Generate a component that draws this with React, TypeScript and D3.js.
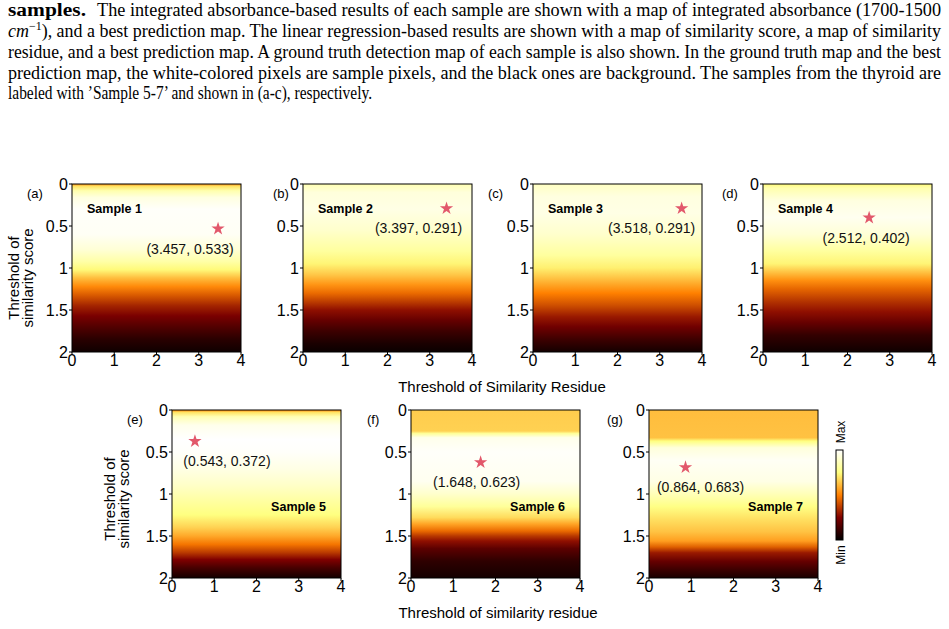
import React from "react";
import * as d3 from "d3";

// ---------- data ----------
const panelLetters = ["(a)", "(b)", "(c)", "(d)", "(e)", "(f)", "(g)"];
const sampleNames = ["Sample 1", "Sample 2", "Sample 3", "Sample 4", "Sample 5", "Sample 6", "Sample 7"];
const bestResidue = [3.457, 3.397, 3.518, 2.512, 0.543, 1.648, 0.864];
const bestScore = [0.533, 0.291, 0.291, 0.402, 0.372, 0.623, 0.683];

// vertical profiles (threshold of similarity score -> normalised value)
const depthsA = [0, 0.03, 0.08, 0.16, 0.3, 0.6, 0.78, 0.92, 1.02, 1.12, 1.22, 1.32, 1.45, 1.57, 1.7, 1.85, 2];
const valuesA = [0.55, 0.7, 0.84, 0.94, 0.99, 0.98, 0.92, 0.83, 0.74, 0.62, 0.52, 0.43, 0.32, 0.24, 0.16, 0.08, 0.03];
const depthsB = [0, 0.1, 0.3, 0.55, 0.8, 0.95, 1.08, 1.2, 1.3, 1.4, 1.5, 1.62, 1.75, 1.9, 2];
const valuesB = [0.85, 0.93, 0.95, 0.9, 0.81, 0.73, 0.64, 0.54, 0.46, 0.37, 0.28, 0.2, 0.12, 0.05, 0.02];
const depthsC = [0, 0.15, 0.35, 0.6, 0.85, 1.0, 1.15, 1.3, 1.45, 1.58, 1.7, 1.85, 2];
const valuesC = [0.88, 0.94, 0.95, 0.9, 0.81, 0.72, 0.61, 0.5, 0.4, 0.3, 0.22, 0.12, 0.04];
const depthsD = [0, 0.05, 0.2, 0.4, 0.6, 0.8, 0.95, 1.05, 1.15, 1.25, 1.4, 1.52, 1.65, 1.8, 2];
const valuesD = [0.74, 0.84, 0.94, 0.97, 0.92, 0.81, 0.73, 0.63, 0.53, 0.45, 0.35, 0.28, 0.2, 0.1, 0.03];
const depthsE = [0, 0.03, 0.08, 0.18, 0.35, 0.5, 0.7, 0.9, 1.1, 1.25, 1.4, 1.5, 1.6, 1.7, 1.78, 1.88, 2];
const valuesE = [0.52, 0.7, 0.85, 0.96, 1.0, 0.99, 0.95, 0.89, 0.81, 0.75, 0.66, 0.58, 0.48, 0.36, 0.25, 0.14, 0.04];
const depthsF = [0, 0.25, 0.28, 0.33, 0.5, 0.85, 1.0, 1.15, 1.28, 1.36, 1.44, 1.5, 1.56, 1.65, 1.8, 2];
const valuesF = [0.65, 0.66, 0.8, 0.96, 0.99, 0.97, 0.9, 0.8, 0.68, 0.57, 0.46, 0.36, 0.28, 0.18, 0.09, 0.04];
const depthsG = [0, 0.33, 0.37, 0.45, 0.6, 0.85, 1.0, 1.15, 1.3, 1.45, 1.56, 1.63, 1.7, 1.8, 1.9, 2];
const valuesG = [0.62, 0.63, 0.75, 0.93, 0.98, 0.95, 0.86, 0.76, 0.69, 0.63, 0.56, 0.44, 0.3, 0.2, 0.12, 0.05];

const profileDepths = [depthsA, depthsB, depthsC, depthsD, depthsE, depthsF, depthsG];
const profileValues = [valuesA, valuesB, valuesC, valuesD, valuesE, valuesF, valuesG];

const xTicks = [0, 1, 2, 3, 4];
const yTicks = [0, 0.5, 1, 1.5, 2];

const captionLines = [
  "The integrated absorbance-based results of each sample are shown with a map of integrated absorbance (1700-1500",
  "), and a best prediction map. The linear regression-based results are shown with a map of similarity score, a map of similarity",
  "residue, and a best prediction map. A ground truth detection map of each sample is also shown. In the ground truth map and the best",
  "prediction map, the white-colored pixels are sample pixels, and the black ones are background. The samples from the thyroid are",
  "labeled with \u2019Sample 5-7\u2019 and shown in (a-c), respectively.",
];

// ---------- layout ----------
const W = 949, H = 629;
const PW = 169, PH = 168;
const panelLeft = [72, 303, 533, 763, 172, 411, 649];
const panelTop = [184, 184, 184, 184, 410, 410, 410];
const letterDx = [-45, -30, -45, -41, -45, -44, -42];
const labelDx = [-28, -28, -30, -3, 32, -4, 15];
const SANS = "'Liberation Sans', Arial, sans-serif";
const SERIF = "'Liberation Serif', 'Times New Roman', serif";

const clamp = (v: number) => Math.max(0, Math.min(1, v));
const afmhot = (v: number) =>
  d3.rgb(255 * clamp(2 * v), 255 * clamp(2 * v - 0.5), 255 * clamp(2 * v - 1)).formatHex();

const star = d3.symbol().type(d3.symbolStar).size(55)();

function Panel({ i }: { i: number }) {
  const left = panelLeft[i], top = panelTop[i];
  const x = d3.scaleLinear().domain([0, 4]).range([left, left + PW]);
  const y = d3.scaleLinear().domain([0, 2]).range([top, top + PH]);
  const bottomRow = i >= 4;
  const sx = x(bestResidue[i]), sy = y(bestScore[i]);
  return (
    <g>
      <rect x={left} y={top} width={PW} height={PH} fill={`url(#grad${i})`} />
      <rect x={left} y={top} width={PW} height={PH} fill="none" stroke="#000" strokeWidth={1} />
      {xTicks.map((t) => (
        <g key={"x" + t}>
          <line x1={x(t)} x2={x(t)} y1={top + PH} y2={top + PH + 3} stroke="#000" />
          <text x={x(t)} y={top + PH + 14} textAnchor="middle" fontSize={16} fontFamily={SANS}>{t}</text>
        </g>
      ))}
      {yTicks.map((t) => (
        <g key={"y" + t}>
          <line x1={left - 3} x2={left} y1={y(t)} y2={y(t)} stroke="#000" />
          <text x={left - 4} y={y(t) + 5.5} textAnchor="end" fontSize={16} fontFamily={SANS}>{t}</text>
        </g>
      ))}
      <text x={left + letterDx[i]} y={top + 14} fontSize={13} fontFamily={SANS}>{panelLetters[i]}</text>
      {bottomRow ? (
        <text x={left + PW - 15} y={y(1.2)} textAnchor="end" fontSize={12.5} fontWeight="bold" fontFamily={SANS}>{sampleNames[i]}</text>
      ) : (
        <text x={left + 15} y={top + 29} fontSize={12.5} fontWeight="bold" fontFamily={SANS}>{sampleNames[i]}</text>
      )}
      <path d={star as string} transform={`translate(${sx},${sy})`} fill="#e2586b" />
      <text x={sx + labelDx[i]} y={sy + 25} textAnchor="middle" fontSize={14} fontFamily={SANS} fill="#111">
        ({bestResidue[i].toFixed(3)}, {bestScore[i].toFixed(3)})
      </text>
    </g>
  );
}

export default function App() {
  const cbStops = d3.range(0, 1.0001, 0.05);
  return (
    <svg width={W} height={H} style={{ position: "absolute", left: 0, top: 0 }}>
      <defs>
        {profileDepths.map((ds, i) => (
          <linearGradient key={i} id={`grad${i}`} x1="0" y1="0" x2="0" y2="1">
            {ds.map((dpt, k) => (
              <stop key={k} offset={dpt / 2} stopColor={afmhot(profileValues[i][k])} />
            ))}
          </linearGradient>
        ))}
        <linearGradient id="cbar" x1="0" y1="1" x2="0" y2="0">
          {cbStops.map((v, k) => (
            <stop key={k} offset={v} stopColor={afmhot(v)} />
          ))}
        </linearGradient>
      </defs>
      <rect width={W} height={H} fill="#fff" />

      {/* caption */}
      <g fontFamily={SERIF} fontSize={18} fill="#000">
        <text x={8} y={16} fontWeight="bold" textLength={78} lengthAdjust="spacingAndGlyphs">samples.</text>
        <text x={97} y={16} textLength={844} lengthAdjust="spacingAndGlyphs">{captionLines[0]}</text>
        <text x={8} y={37} textLength={933} lengthAdjust="spacingAndGlyphs">
          <tspan fontStyle="italic">cm</tspan>
          <tspan dy={-7} fontSize={12}>{"\u22121"}</tspan>
          <tspan dy={7}>{captionLines[1]}</tspan>
        </text>
        <text x={8} y={58} textLength={933} lengthAdjust="spacingAndGlyphs">{captionLines[2]}</text>
        <text x={8} y={79} textLength={933} lengthAdjust="spacingAndGlyphs">{captionLines[3]}</text>
        <text x={8} y={99} textLength={364} lengthAdjust="spacingAndGlyphs">{captionLines[4]}</text>
      </g>

      {panelLeft.map((_, i) => <Panel key={i} i={i} />)}

      {/* axis titles */}
      <g fontFamily={SANS} fontSize={15}>
        <g transform="translate(19,278) rotate(-90)">
          <text x={0} y={0} textAnchor="middle">Threshold of</text>
          <text x={0} y={14} textAnchor="middle">similarity score</text>
        </g>
        <g transform="translate(115,499) rotate(-90)">
          <text x={0} y={0} textAnchor="middle">Threshold of</text>
          <text x={0} y={14} textAnchor="middle">similarity score</text>
        </g>
        <text x={502} y={392} textAnchor="middle">Threshold of Similarity Residue</text>
        <text x={498} y={618} textAnchor="middle">Threshold of similarity residue</text>
      </g>

      {/* colour bar */}
      <rect x={836} y={450} width={7} height={90} fill="url(#cbar)" stroke="#000" strokeWidth={1} />
      <text transform="translate(845,432) rotate(-90)" textAnchor="middle" fontSize={12} fontFamily={SANS}>Max</text>
      <text transform="translate(845,555) rotate(-90)" textAnchor="middle" fontSize={12} fontFamily={SANS}>Min</text>
    </svg>
  );
}
